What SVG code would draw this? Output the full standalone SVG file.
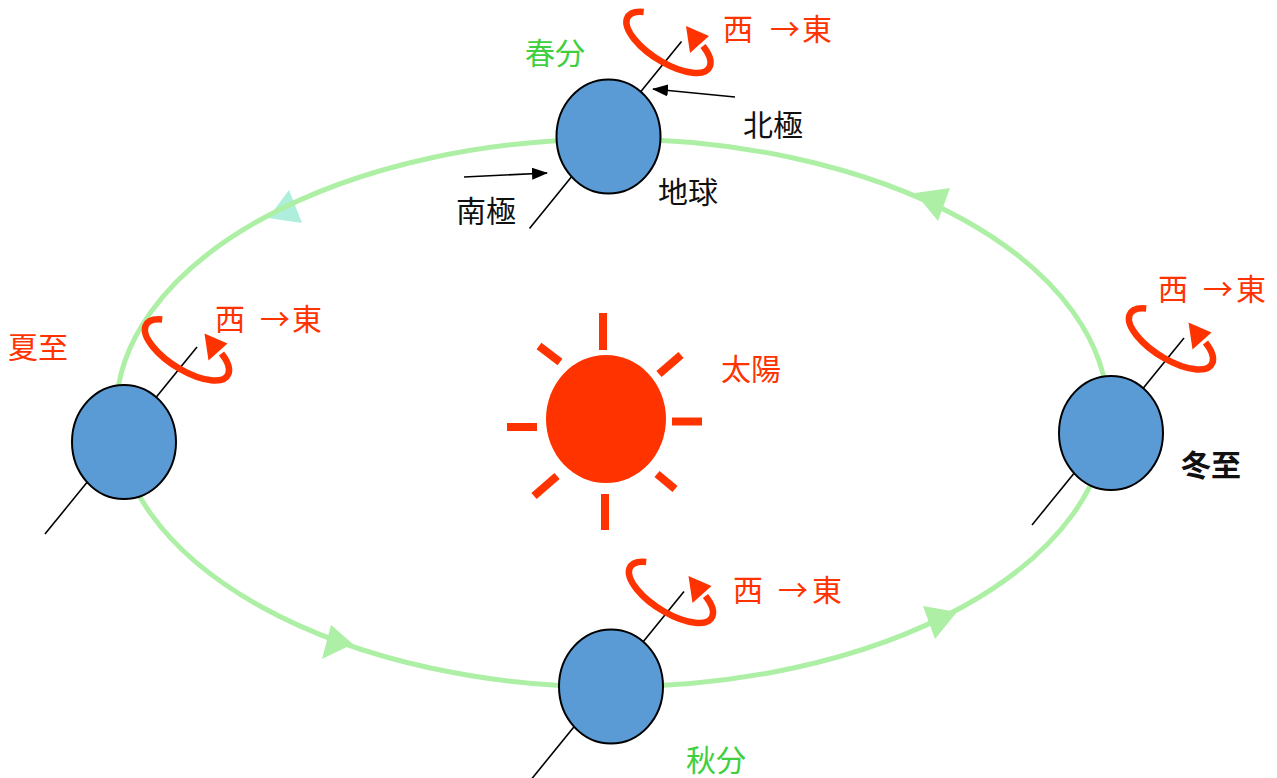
<svg xmlns="http://www.w3.org/2000/svg" xmlns:xlink="http://www.w3.org/1999/xlink" width="1277" height="778" viewBox="0 0 1277 778">
  <style>
    .lbl { font-family: "Noto Sans CJK JP", "Noto Sans CJK SC", sans-serif; font-size: 30px; }
    .red { fill: #ff3300; }
    .green { fill: #3fcf3f; }
    .dark { fill: #111111; }
    .orbit { fill: none; stroke: #adf0a5; stroke-width: 5; }
    .orbit-head { fill: #adf0a5; }
    .axis { stroke: #000000; stroke-width: 1.6; }
    .globe { fill: #5b9bd5; stroke: #000000; stroke-width: 2; }
    .spin-ring { fill: none; stroke: #ff3300; stroke-width: 6.5; }
    .spin-head { fill: #ff3300; }
    .ray { stroke: #ff3300; stroke-width: 8; }
    .pointer { stroke: #000000; stroke-width: 1.6; fill: none; marker-end: url(#tip); }
  </style>
  <defs>
    <marker id="tip" viewBox="0 0 16 12" refX="15" refY="6" markerWidth="16" markerHeight="12" markerUnits="userSpaceOnUse" orient="auto">
      <path d="M0,0 L16,6 L0,12 Z" fill="#000000"/>
    </marker>
    <!-- globe with its tilted axis, centred on the origin -->
    <g id="planet">
      <line class="axis" x1="-79" y1="92" x2="73" y2="-95"/>
      <ellipse class="globe" cx="0" cy="0" rx="52" ry="57"/>
    </g>
    <!-- west-to-east spin arrow around the upper axis -->
    <g id="spin">
      <path class="spin-ring" d="M35.2,-124.6 A48,20 32 1 0 94.5,-90.5"/>
      <polygon class="spin-head" points="77.5,-110.5 81.5,-83.5 100.5,-100.5"/>
    </g>
  </defs>

  <rect width="1277" height="778" fill="#ffffff"/>

  <!-- orbit and pointer arrows -->
  <g id="connectors">
    <polygon points="268,218 289,190 302,223" fill="#aeeedd"/>
    <ellipse class="orbit" cx="612" cy="413" rx="496" ry="274"/>
    <polygon class="orbit-head" points="915,193 950,188 938,221"/>
    <polygon class="orbit-head" points="353,644 331,625 322,659"/>
    <polygon class="orbit-head" points="957,612 923,606 935,639"/>
    <line class="pointer" x1="735" y1="97" x2="653" y2="89"/>
    <line class="pointer" x1="464" y1="177" x2="547" y2="173"/>
  </g>

  <!-- sun -->
  <g id="sun">
    <ellipse cx="606" cy="419" rx="60" ry="64" fill="#ff3300"/>
    <line class="ray" x1="603" y1="313" x2="603" y2="350"/>
    <line class="ray" x1="605" y1="494" x2="605" y2="530"/>
    <line class="ray" x1="507" y1="427" x2="537" y2="427"/>
    <line class="ray" x1="672" y1="421.5" x2="702" y2="421.5"/>
    <line class="ray" x1="539" y1="346" x2="560" y2="362"/>
    <line class="ray" x1="659" y1="374" x2="681" y2="355"/>
    <line class="ray" x1="534" y1="496" x2="557" y2="476"/>
    <line class="ray" x1="657" y1="474" x2="675" y2="489"/>
    <text class="lbl red" x="721" y="380">太陽</text>
  </g>

  <!-- vernal equinox -->
  <g id="earth-spring">
    <use xlink:href="#planet" transform="translate(608.5,136.5)"/>
    <use xlink:href="#spin" transform="translate(608.5,136.5)"/>
    <text class="lbl green" x="525" y="64">春分</text>
    <text class="lbl red" x="723 752 770 802" y="40">西 →東</text>
    <text class="lbl dark" x="743" y="136">北極</text>
    <text class="lbl dark" x="658" y="203">地球</text>
    <text class="lbl dark" x="456" y="222">南極</text>
  </g>

  <!-- summer solstice -->
  <g id="earth-summer">
    <use xlink:href="#planet" transform="translate(124,442)"/>
    <use xlink:href="#spin" transform="translate(127,444)"/>
    <text class="lbl red" x="8" y="358">夏至</text>
    <text class="lbl red" x="215 244 260 292" y="330">西 →東</text>
  </g>

  <!-- winter solstice -->
  <g id="earth-winter">
    <use xlink:href="#planet" transform="translate(1111,433)"/>
    <use xlink:href="#spin" transform="translate(1111,433)"/>
    <text class="lbl red" x="1158 1187 1203 1236" y="300">西 →東</text>
    <text class="lbl dark" x="1181" y="476" font-weight="bold">冬至</text>
  </g>

  <!-- autumnal equinox -->
  <g id="earth-autumn">
    <use xlink:href="#planet" transform="translate(611,686.5)"/>
    <use xlink:href="#spin" transform="translate(611,686.5)"/>
    <text class="lbl red" x="733 762 778 812" y="601">西 →東</text>
    <text class="lbl green" x="686" y="771">秋分</text>
  </g>
</svg>
